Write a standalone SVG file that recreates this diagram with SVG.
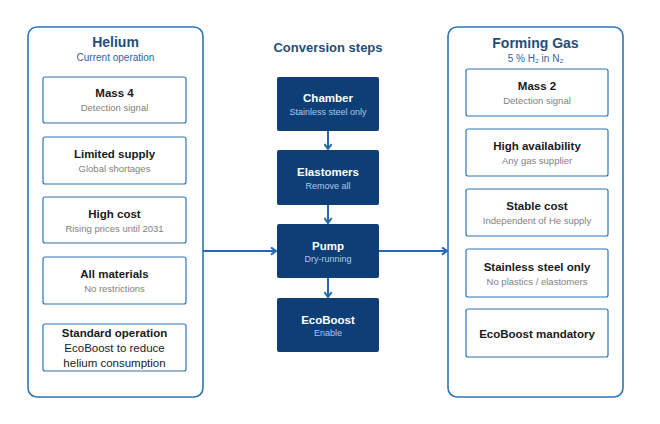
<svg xmlns="http://www.w3.org/2000/svg" width="660" height="424" viewBox="0 0 660 424">
<defs>
<style>
text{font-family:"Liberation Sans",Arial,sans-serif;text-anchor:middle}
.panel{fill:#fff;stroke:#2E75B6;stroke-width:1.6}
.card{fill:#fff;stroke:#2E75B6;stroke-width:1.2}
.step{fill:#0D3F76}
.ptitle{font-size:14px;font-weight:bold;fill:#1F4E79}
.psub{font-size:10px;fill:#2E64A0}
.ctitle{font-size:11.5px;font-weight:bold;fill:#1A1A1A}
.csub{font-size:9.5px;fill:#7F7F7F}
.cline{font-size:11.5px;fill:#1A1A1A}
.stitle{font-size:11.5px;font-weight:bold;fill:#fff}
.ssub{font-size:9px;fill:#A9C8EA}
.conn{stroke:#2468B0;stroke-width:2;fill:none}
</style>
<marker id="arr" viewBox="0 0 10 10" refX="8.5" refY="5" markerWidth="9" markerHeight="9" orient="auto" markerUnits="userSpaceOnUse">
<path d="M3,1 L8.5,5 L3,9" fill="none" stroke="#2468B0" stroke-width="2.2"/>
</marker>
</defs>
<rect width="660" height="424" fill="#fff"/>

<g id="helium">
<rect class="panel" x="28" y="27" width="175" height="370" rx="9"/>
<text class="ptitle" x="115.5" y="47">Helium</text>
<text class="psub" x="115.5" y="61">Current operation</text>
</g>
<g id="he-mass4">
<rect class="card" x="43" y="77" width="143" height="46" rx="2"/>
<text class="ctitle" x="114.5" y="97">Mass 4</text>
<text class="csub" x="114.5" y="111">Detection signal</text>
</g>
<g id="he-supply">
<rect class="card" x="43" y="137" width="143" height="47" rx="2"/>
<text class="ctitle" x="114.5" y="158">Limited supply</text>
<text class="csub" x="114.5" y="172">Global shortages</text>
</g>
<g id="he-cost">
<rect class="card" x="43" y="197" width="143" height="46" rx="2"/>
<text class="ctitle" x="114.5" y="218">High cost</text>
<text class="csub" x="114.5" y="232">Rising prices until 2031</text>
</g>
<g id="he-materials">
<rect class="card" x="43" y="257" width="143" height="47" rx="2"/>
<text class="ctitle" x="114.5" y="278">All materials</text>
<text class="csub" x="114.5" y="292">No restrictions</text>
</g>
<g id="he-standard">
<rect class="card" x="43" y="324" width="143" height="47" rx="2"/>
<text class="ctitle" x="114.5" y="337">Standard operation</text>
<text class="cline" x="114.5" y="352">EcoBoost to reduce</text>
<text class="cline" x="114.5" y="367">helium consumption</text>
</g>

<g id="steps-title">
<text class="ptitle" x="328" y="52" style="font-size:13px">Conversion steps</text>
</g>
<g id="chamber">
<rect class="step" x="277" y="77" width="102" height="54" rx="2"/>
<text class="stitle" x="328" y="102">Chamber</text>
<text class="ssub" x="328" y="115">Stainless steel only</text>
</g>
<g id="elastomers">
<rect class="step" x="277" y="150" width="102" height="55" rx="2"/>
<text class="stitle" x="328" y="176">Elastomers</text>
<text class="ssub" x="328" y="189">Remove all</text>
</g>
<g id="pump">
<rect class="step" x="277" y="224" width="102" height="54" rx="2"/>
<text class="stitle" x="328" y="250">Pump</text>
<text class="ssub" x="328" y="262">Dry-running</text>
</g>
<g id="ecoboost">
<rect class="step" x="277" y="298" width="102" height="54" rx="2"/>
<text class="stitle" x="328" y="324">EcoBoost</text>
<text class="ssub" x="328" y="336">Enable</text>
</g>

<g id="forming">
<rect class="panel" x="448" y="27" width="175" height="370" rx="9"/>
<text class="ptitle" x="535.5" y="48">Forming Gas</text>
<text class="psub" x="535.5" y="62">5 % H₂ in N₂</text>
</g>
<g id="fg-mass2">
<rect class="card" x="466" y="69" width="142" height="47" rx="2"/>
<text class="ctitle" x="537" y="90">Mass 2</text>
<text class="csub" x="537" y="104">Detection signal</text>
</g>
<g id="fg-avail">
<rect class="card" x="466" y="129" width="142" height="47" rx="2"/>
<text class="ctitle" x="537" y="150">High availability</text>
<text class="csub" x="537" y="164">Any gas supplier</text>
</g>
<g id="fg-cost">
<rect class="card" x="466" y="189" width="142" height="47" rx="2"/>
<text class="ctitle" x="537" y="210">Stable cost</text>
<text class="csub" x="537" y="224">Independent of He supply</text>
</g>
<g id="fg-steel">
<rect class="card" x="466" y="249" width="142" height="48" rx="2"/>
<text class="ctitle" x="537" y="271">Stainless steel only</text>
<text class="csub" x="537" y="285">No plastics / elastomers</text>
</g>
<g id="fg-eco">
<rect class="card" x="466" y="309" width="142" height="48" rx="2"/>
<text class="ctitle" x="537" y="338">EcoBoost mandatory</text>
</g>

<g id="connectors">
<line class="conn" x1="328" y1="131" x2="328" y2="149" marker-end="url(#arr)"/>
<line class="conn" x1="328" y1="205" x2="328" y2="223" marker-end="url(#arr)"/>
<line class="conn" x1="328" y1="278" x2="328" y2="297" marker-end="url(#arr)"/>
<line class="conn" x1="203" y1="251" x2="276" y2="251" marker-end="url(#arr)"/>
<line class="conn" x1="379" y1="251" x2="447" y2="251" marker-end="url(#arr)"/>
</g>
</svg>
